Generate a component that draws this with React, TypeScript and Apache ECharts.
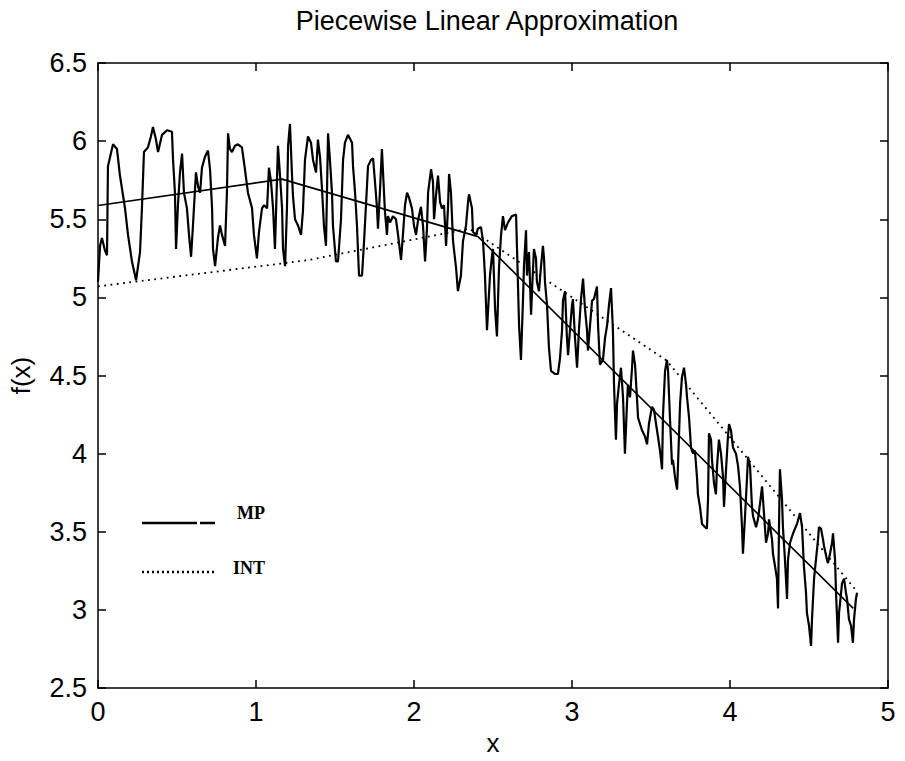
import React, { useEffect, useRef } from "react";
import * as echarts from "echarts";

const titleText = "Piecewise Linear Approximation";
const xAxisName = "x";
const yAxisName = "f(x)";
const legendLabels = ["MP", "INT"];

// noisy measured function f(x): [x, f(x)]
const signalPoints: [number, number][] = [
  [0.000,5.10],[0.013,5.33],[0.025,5.38],[0.044,5.30],[0.057,5.27],[0.063,5.84],[0.095,5.98],[0.120,5.95],[0.139,5.78],[0.171,5.57],
  [0.190,5.40],[0.215,5.23],[0.241,5.11],[0.266,5.29],[0.278,5.57],[0.291,5.93],[0.316,5.96],[0.335,6.03],[0.348,6.09],[0.367,6.01],
  [0.380,5.93],[0.405,6.04],[0.437,6.07],[0.468,6.06],[0.475,5.88],[0.487,5.67],[0.494,5.31],[0.506,5.59],[0.519,5.80],[0.532,5.92],
  [0.544,5.67],[0.563,5.57],[0.576,5.40],[0.589,5.26],[0.601,5.46],[0.620,5.80],[0.633,5.71],[0.646,5.67],[0.658,5.83],[0.677,5.90],
  [0.696,5.94],[0.709,5.82],[0.722,5.57],[0.728,5.31],[0.741,5.20],[0.759,5.38],[0.772,5.46],[0.785,5.40],[0.804,5.33],[0.816,5.67],
  [0.823,6.05],[0.835,5.95],[0.848,5.93],[0.867,5.97],[0.886,5.98],[0.911,5.96],[0.930,5.82],[0.949,5.67],[0.975,5.57],[0.987,5.40],
  [1.006,5.25],[1.019,5.42],[1.038,5.57],[1.051,5.59],[1.070,5.57],[1.082,5.83],[1.095,5.74],[1.108,5.57],[1.120,5.31],[1.139,5.97],
  [1.152,5.78],[1.165,5.57],[1.171,5.31],[1.184,5.20],[1.196,5.57],[1.203,5.97],[1.215,6.11],[1.228,5.78],[1.234,5.65],[1.247,5.50],
  [1.266,5.46],[1.285,5.40],[1.297,5.55],[1.310,5.88],[1.329,6.03],[1.348,5.99],[1.361,5.88],[1.380,5.80],[1.392,6.01],[1.405,5.90],
  [1.418,5.69],[1.430,5.46],[1.443,5.33],[1.456,6.05],[1.468,5.88],[1.481,5.67],[1.487,5.46],[1.506,5.23],[1.519,5.23],[1.538,5.50],
  [1.551,5.88],[1.563,5.99],[1.582,6.04],[1.608,5.99],[1.614,5.84],[1.627,5.67],[1.639,5.46],[1.652,5.14],[1.671,5.14],[1.684,5.36],
  [1.696,5.59],[1.709,5.84],[1.728,5.88],[1.741,5.89],[1.753,5.74],[1.766,5.57],[1.772,5.44],[1.785,5.69],[1.797,5.95],[1.804,5.80],
  [1.816,5.55],[1.829,5.40],[1.835,5.52],[1.848,5.48],[1.867,5.52],[1.886,5.50],[1.899,5.40],[1.918,5.24],[1.930,5.40],[1.943,5.59],
  [1.956,5.67],[1.968,5.64],[1.987,5.57],[2.000,5.46],[2.013,5.40],[2.025,5.49],[2.044,5.58],[2.057,5.46],[2.070,5.23],[2.082,5.44],
  [2.089,5.67],[2.108,5.82],[2.120,5.74],[2.127,5.50],[2.139,5.65],[2.152,5.78],[2.165,5.61],[2.177,5.57],[2.190,5.59],[2.203,5.33],
  [2.215,5.57],[2.222,5.79],[2.234,5.67],[2.247,5.36],[2.266,5.19],[2.278,5.04],[2.297,5.14],[2.310,5.36],[2.329,5.46],[2.342,5.61],
  [2.348,5.66],[2.367,5.57],[2.373,5.42],[2.392,5.40],[2.405,5.44],[2.424,5.45],[2.437,5.36],[2.449,5.14],[2.462,4.79],[2.481,5.14],
  [2.494,5.27],[2.500,5.31],[2.513,4.93],[2.525,4.75],[2.538,5.19],[2.551,5.40],[2.563,5.52],[2.576,5.43],[2.595,5.48],[2.620,5.52],
  [2.646,5.53],[2.652,5.31],[2.665,4.82],[2.677,4.60],[2.690,4.99],[2.696,5.20],[2.709,5.43],[2.715,5.14],[2.728,5.29],[2.741,4.89],
  [2.747,5.04],[2.759,5.31],[2.772,5.25],[2.778,5.10],[2.791,5.04],[2.804,5.20],[2.816,5.33],[2.823,5.25],[2.829,5.10],[2.842,4.95],
  [2.854,4.68],[2.867,4.53],[2.892,4.51],[2.911,4.51],[2.924,4.61],[2.937,4.79],[2.943,4.98],[2.956,5.04],[2.968,4.74],[2.975,4.63],
  [2.987,4.79],[3.000,4.95],[3.006,4.99],[3.019,4.74],[3.032,4.55],[3.044,4.79],[3.057,4.99],[3.070,5.12],[3.082,4.93],[3.095,4.79],
  [3.101,4.66],[3.114,4.82],[3.127,4.98],[3.139,4.99],[3.158,5.07],[3.165,4.82],[3.177,4.57],[3.196,4.60],[3.209,4.74],[3.222,4.82],
  [3.234,4.95],[3.247,5.06],[3.259,4.79],[3.266,4.44],[3.278,4.09],[3.285,4.32],[3.297,4.44],[3.310,4.55],[3.323,4.36],[3.335,4.00],
  [3.348,4.32],[3.354,4.44],[3.367,4.36],[3.380,4.55],[3.386,4.66],[3.399,4.57],[3.411,4.36],[3.418,4.23],[3.443,4.15],[3.462,4.11],
  [3.475,4.06],[3.487,4.19],[3.506,4.30],[3.519,4.28],[3.532,4.19],[3.544,4.11],[3.557,4.02],[3.570,3.90],[3.576,4.25],[3.589,4.53],
  [3.601,4.60],[3.608,4.53],[3.620,4.23],[3.633,3.93],[3.639,3.96],[3.652,3.85],[3.665,3.77],[3.671,3.93],[3.684,4.32],[3.696,4.49],
  [3.709,4.55],[3.722,4.44],[3.728,4.36],[3.741,4.23],[3.753,4.04],[3.766,4.00],[3.778,4.02],[3.791,3.85],[3.797,3.74],[3.810,3.66],
  [3.823,3.55],[3.842,3.53],[3.854,3.52],[3.861,3.71],[3.867,4.13],[3.880,4.09],[3.886,3.96],[3.899,3.81],[3.911,3.74],[3.918,3.92],
  [3.930,4.09],[3.943,4.00],[3.956,3.85],[3.962,3.66],[3.975,3.90],[3.987,4.11],[3.994,4.19],[4.006,4.15],[4.019,4.04],[4.038,4.00],
  [4.051,3.92],[4.063,3.79],[4.076,3.53],[4.082,3.36],[4.095,3.60],[4.108,3.85],[4.114,3.98],[4.127,3.92],[4.139,3.66],[4.146,3.60],
  [4.165,3.53],[4.177,3.58],[4.190,3.68],[4.203,3.79],[4.215,3.62],[4.228,3.43],[4.241,3.49],[4.247,3.58],[4.266,3.45],[4.272,3.36],
  [4.285,3.28],[4.297,3.20],[4.304,3.01],[4.310,3.53],[4.316,3.90],[4.329,3.71],[4.335,3.53],[4.348,3.32],[4.361,3.07],[4.367,3.32],
  [4.380,3.43],[4.399,3.49],[4.424,3.55],[4.443,3.62],[4.456,3.53],[4.468,3.28],[4.481,3.11],[4.487,2.98],[4.500,2.90],[4.513,2.77],
  [4.519,2.94],[4.532,3.20],[4.544,3.32],[4.557,3.45],[4.563,3.53],[4.576,3.52],[4.589,3.45],[4.595,3.41],[4.614,3.32],[4.620,3.30],
  [4.633,3.36],[4.646,3.43],[4.652,3.49],[4.665,3.32],[4.671,3.11],[4.684,2.79],[4.690,2.98],[4.703,3.11],[4.709,3.17],[4.722,3.20],
  [4.734,3.11],[4.741,3.07],[4.753,2.94],[4.766,2.90],[4.778,2.79],[4.785,2.94],[4.797,3.07],[4.804,3.11],
];

// piecewise linear approximations (breakpoints)
const mpPoints: [number, number][] = [[0, 5.588], [1.165, 5.757], [2.405, 5.389], [4.78, 3.01]];
const intPoints: [number, number][] = [[0, 5.071], [1.32, 5.237], [2.35, 5.44], [3.6, 4.595], [4.79, 3.135]];

export default function App() {
  const ref = useRef<HTMLDivElement>(null);

  useEffect(() => {
    if (!ref.current) return;
    const chart = echarts.init(ref.current, null, { renderer: "svg" });
    const sans = "'Liberation Sans', Arial, Helvetica, sans-serif";
    const serif = "'Liberation Serif', 'Times New Roman', serif";
    const black = "#000";
    const axisLine = { show: true, onZero: false, lineStyle: { color: black, width: 1.5 } };
    const axisTick = { show: true, inside: true, length: 8, lineStyle: { color: black, width: 1.5 } };

    chart.setOption({
      animation: false,
      backgroundColor: "#fff",
      title: {
        text: titleText,
        left: 482,
        top: 2,
        textAlign: "center",
        textStyle: { color: black, fontSize: 27, fontWeight: "normal", fontFamily: sans },
      },
      grid: { left: 98, right: 17, top: 63, bottom: 68, containLabel: false },
      xAxis: [
        {
          type: "value", position: "bottom", min: 0, max: 5, interval: 1,
          axisLine, axisTick, splitLine: { show: false },
          axisLabel: { color: black, fontSize: 27, fontFamily: sans, margin: 10 },
          name: xAxisName, nameLocation: "middle", nameGap: 40,
          nameTextStyle: { color: black, fontSize: 26, fontFamily: sans },
        },
        {
          type: "value", position: "top", min: 0, max: 5, interval: 1,
          axisLine, axisTick, splitLine: { show: false }, axisLabel: { show: false },
        },
      ],
      yAxis: [
        {
          type: "value", position: "left", min: 2.5, max: 6.5, interval: 0.5,
          axisLine, axisTick, splitLine: { show: false },
          axisLabel: { color: black, fontSize: 27, fontFamily: sans, margin: 11 },
          name: yAxisName, nameLocation: "middle", nameGap: 64, nameRotate: 90,
          nameTextStyle: { color: black, fontSize: 26, fontFamily: sans },
        },
        {
          type: "value", position: "right", min: 2.5, max: 6.5, interval: 0.5,
          axisLine, axisTick, splitLine: { show: false }, axisLabel: { show: false },
        },
      ],
      series: [
        {
          name: "f(x)", type: "line", data: signalPoints, showSymbol: false, symbol: "none",
          lineStyle: { color: black, width: 2.2 }, silent: true, z: 2,
        },
        {
          name: legendLabels[0], type: "line", data: mpPoints, showSymbol: false, symbol: "none",
          lineStyle: { color: black, width: 1.6 }, silent: true, z: 3,
        },
        {
          name: legendLabels[1], type: "line", data: intPoints, showSymbol: false, symbol: "none",
          lineStyle: { color: black, width: 1.8, type: [1.8, 4.5] }, silent: true, z: 3,
        },
      ],
      graphic: [
        { type: "line", shape: { x1: 142, y1: 523, x2: 215, y2: 523 }, style: { stroke: black, lineWidth: 2.4, lineDash: [55, 3, 15, 0] } },
        { type: "text", x: 237, y: 513, style: { text: legendLabels[0], fill: black, font: `bold 18px ${serif}`, textVerticalAlign: "middle" } },
        { type: "line", shape: { x1: 142, y1: 572, x2: 215, y2: 572 }, style: { stroke: black, lineWidth: 2.4, lineDash: [2, 3] } },
        { type: "text", x: 233, y: 568, style: { text: legendLabels[1], fill: black, font: `bold 18px ${serif}`, textVerticalAlign: "middle" } },
      ],
    });
    return () => chart.dispose();
  }, []);

  return (
    <div
      ref={ref}
      style={{ position: "absolute", left: 0, top: 0, width: 905, height: 761, background: "#fff" }}
    />
  );
}
